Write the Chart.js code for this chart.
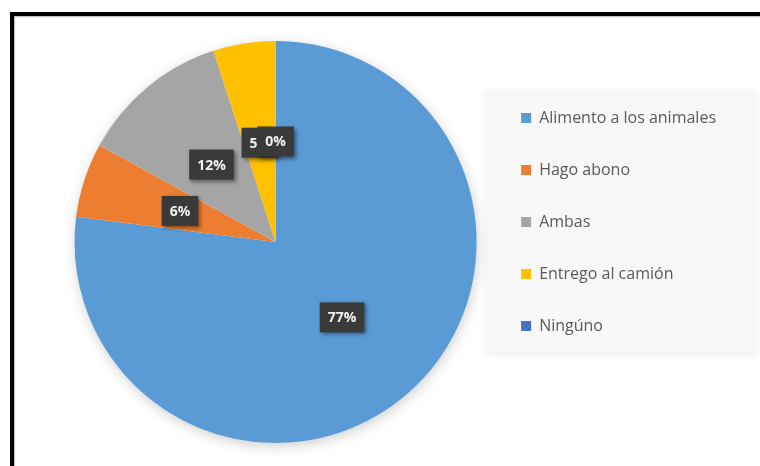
<!DOCTYPE html>
<html>
<head>
<meta charset="utf-8">
<script src="https://cdn.jsdelivr.net/npm/chart.js@4.4.1/dist/chart.umd.min.js"></script>
<style>
  html, body { margin: 0; padding: 0; background: #fff; }
  #wrap { position: relative; width: 760px; height: 466px; }
  #frame {
    position: absolute; left: 10px; top: 12px; width: 760px; height: 470px;
    border-top: 4px solid #000; border-left: 4px solid #000;
    box-shadow: inset 1px 1px 1px #bbb;
    pointer-events: none;
  }
</style>
</head>
<body>
<div id="wrap">
  <canvas id="pieChart" width="760" height="466"></canvas>
  <div id="frame"></div>
</div>
<script>
const categories = ['Alimento a los animales', 'Hago abono', 'Ambas', 'Entrego al camión', 'Ningúno'];
const percentages = [77, 6, 12, 5, 0];
const sliceColors = ['#5B9BD5', '#ED7D31', '#A5A5A5', '#FFC000', '#4472C4'];

// soft shadow under the whole pie
const pieShadow = {
    id: 'pieShadow',
    beforeDatasetsDraw(chart) {
        const arc = chart.getDatasetMeta(0).data[0];
        if (!arc) return;
        const ctx = chart.ctx;
        ctx.save();
        ctx.shadowColor = 'rgba(0,0,0,0.22)';
        ctx.shadowBlur = 14;
        ctx.shadowOffsetX = 1;
        ctx.shadowOffsetY = 3;
        ctx.fillStyle = '#fff';
        ctx.beginPath();
        ctx.arc(arc.x, arc.y, arc.outerRadius - 1, 0, Math.PI * 2);
        ctx.fill();
        ctx.restore();
    }
};

// dark value boxes in the middle of each slice
const valueBoxes = {
    id: 'valueBoxes',
    afterDatasetsDraw(chart) {
        const ctx = chart.ctx;
        const meta = chart.getDatasetMeta(0);
        ctx.save();
        ctx.font = 'bold 14px "Open Sans", sans-serif';
        ctx.textAlign = 'center';
        ctx.textBaseline = 'middle';
        meta.data.forEach((arc, i) => {
            const p = arc.getCenterPoint();
            const txt = percentages[i] + '%';
            const w = ctx.measureText(txt).width + 16;
            const h = 30;
            ctx.save();
            ctx.shadowColor = 'rgba(0,0,0,0.45)';
            ctx.shadowBlur = 4;
            ctx.shadowOffsetX = 2;
            ctx.shadowOffsetY = 2;
            ctx.fillStyle = '#3a3a3a';
            ctx.fillRect(p.x - w / 2, p.y - h / 2, w, h);
            ctx.restore();
            ctx.fillStyle = '#f2f2f2';
            ctx.fillText(txt, p.x, p.y + 1);
        });
        ctx.restore();
    }
};

// light panel behind the legend, and lift the legend a little
const legendPanel = {
    id: 'legendPanel',
    afterLayout(chart) {
        const lg = chart.legend;
        lg.top -= 20;
        lg.bottom -= 20;
    },
    beforeDraw(chart) {
        const lg = chart.legend;
        const boxes = lg.legendHitBoxes;
        if (!boxes || !boxes.length) return;
        const first = boxes[0], last = boxes[boxes.length - 1];
        const top = first.top - 20;
        const bottom = last.top + last.height + 19;
        const ctx = chart.ctx;
        ctx.save();
        ctx.shadowColor = 'rgba(0,0,0,0.07)';
        ctx.shadowBlur = 6;
        ctx.shadowOffsetY = 2;
        ctx.fillStyle = '#f8f8f8';
        ctx.fillRect(lg.left, top, chart.width - 3 - lg.left, bottom - top);
        ctx.restore();
    }
};

new Chart(document.getElementById('pieChart'), {
    type: 'pie',
    data: {
        labels: categories,
        datasets: [{
            data: percentages,
            backgroundColor: sliceColors,
            borderWidth: 0
        }]
    },
    options: {
        responsive: false,
        animation: false,
        layout: {
            padding: { top: 41, bottom: 23, left: 66, right: 34 }
        },
        plugins: {
            legend: {
                position: 'right',
                labels: {
                    boxWidth: 10,
                    boxHeight: 10,
                    padding: 36,
                    color: '#595959',
                    font: { family: '"Open Sans", sans-serif', size: 16 }
                }
            },
            tooltip: { enabled: false }
        }
    },
    plugins: [pieShadow, valueBoxes, legendPanel]
});
</script>
</body>
</html>
